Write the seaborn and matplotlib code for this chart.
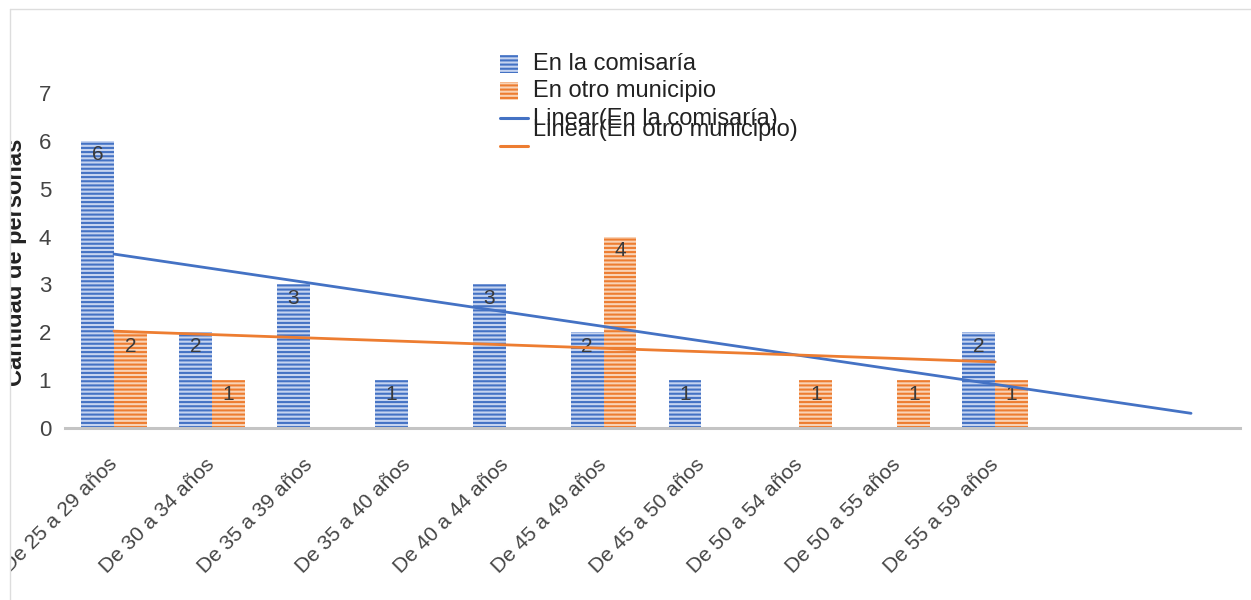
import numpy as np
import pandas as pd
import matplotlib
matplotlib.use('Agg')
import matplotlib.pyplot as plt
from matplotlib.patches import Rectangle
import seaborn as sns

# ── DATA ─────────────────────────────────────────────────────
grupos = ['De 25 a 29 años', 'De 30 a 34 años', 'De 35 a 39 años',
          'De 35 a 40 años', 'De 40 a 44 años', 'De 45 a 49 años',
          'De 45 a 50 años', 'De 50 a 54 años', 'De 50 a 55 años',
          'De 55 a 59 años']
comisaria = [6, 2, 3, 1, 3, 2, 1, np.nan, np.nan, 2]
otro_municipio = [2, 1, np.nan, np.nan, np.nan, 4, np.nan, 1, 1, 1]
series = ['En la comisaría', 'En otro municipio']
trend_labels = ['Linear(En la comisaría)', 'Linear(En otro municipio)']
# last category slot each trend line reaches (the sheet keeps 12 slots)
trend_hasta = [11, 9]
n_slots = 12
y_ticks = [0, 1, 2, 3, 4, 5, 6, 7]

colores = ['#4472C4', '#ED7D31']
claros = ['#c6d4f0', '#f9d3b6']

df = pd.DataFrame({
    'grupo': grupos * 2,
    'lugar': [series[0]] * len(grupos) + [series[1]] * len(grupos),
    'cantidad': comisaria + otro_municipio,
}).dropna()

# ── STYLE ────────────────────────────────────────────────────
sns.set_style('white')
plt.rcParams['font.family'] = ['Liberation Sans', 'DejaVu Sans']
plt.rcParams['hatch.linewidth'] = 1.5

W, H = 1251, 600
fig = plt.figure(figsize=(W / 100, H / 100), dpi=100)
ax = fig.add_axes([65 / W, 1 - 428 / H, (1240 - 65) / W, (428 - 93) / H])

sns.barplot(data=df, x='grupo', y='cantidad', hue='lugar', order=grupos,
            hue_order=series, palette=colores, width=0.67, errorbar=None,
            saturation=1, legend=False, ax=ax)

for i, cont in enumerate(ax.containers):
    for bar in cont:
        bar.set_facecolor(claros[i])
        bar.set_edgecolor(colores[i])
        bar.set_hatch('----')
        bar.set_linewidth(0)
    ax.bar_label(cont, fmt='%d', padding=-17, fontsize=15, color='#3a3a3a')

# linear trend lines (fit only over the categories with data)
x = np.arange(len(grupos))
for i, vals in enumerate([comisaria, otro_municipio]):
    vals = np.array(vals, dtype=float)
    m = ~np.isnan(vals)
    slope, inter = np.polyfit(x[m], vals[m], 1)
    xs = np.array([0, trend_hasta[i]])
    ax.plot(xs, inter + slope * xs, color=colores[i], lw=2, zorder=5)

ax.set_xlim(-0.5, n_slots - 0.5)
ax.set_ylim(0, 7)
ax.set_yticks(y_ticks)
ax.set_xlabel('')
ax.set_ylabel('')
for s in ['top', 'right', 'left']:
    ax.spines[s].set_visible(False)
ax.spines['bottom'].set_color('#c4c4c4')
ax.spines['bottom'].set_linewidth(2.2)
ax.tick_params(axis='y', length=0, pad=10, labelsize=16, labelcolor='#444444')
ax.tick_params(axis='x', length=0, pad=24, labelsize=15, labelcolor='#444444')
for lab in ax.get_xticklabels():
    lab.set_rotation(45)
    lab.set_ha('right')
    lab.set_va('center')
    lab.set_rotation_mode('anchor')

# ── OVERLAY: axis title, legend, frame ───────────────────────
ov = fig.add_axes([0, 0, 1, 1])
ov.set_xlim(0, W)
ov.set_ylim(H, 0)
ov.axis('off')

ov.text(16, 262, 'Cantidad de personas', rotation=90, ha='center',
        va='center', fontsize=17, fontweight='bold', color='#222222')
ov.add_patch(Rectangle((0, 0), 10, H, facecolor='white', lw=0, zorder=3))
ov.plot([10, 10], [9, H], color='#dddddd', lw=1, zorder=4)
ov.plot([10, W], [9, 9], color='#dddddd', lw=1, zorder=4)

for i in range(2):
    y0 = 55 + 27 * i
    ov.add_patch(Rectangle((500, y0), 18, 18, facecolor=claros[i],
                           edgecolor=colores[i], hatch='----', lw=0))
    ov.text(533, y0 + 9, series[i], fontsize=17, va='center', color='#222222')
for i, (yl, yt) in enumerate([(118, 119), (146, 130)]):
    ov.plot([500, 528], [yl, yl], color=colores[i], lw=2.2)
    ov.text(533, yt, trend_labels[i], fontsize=17, va='center', color='#222222')

fig.savefig('out.png', dpi=100)
